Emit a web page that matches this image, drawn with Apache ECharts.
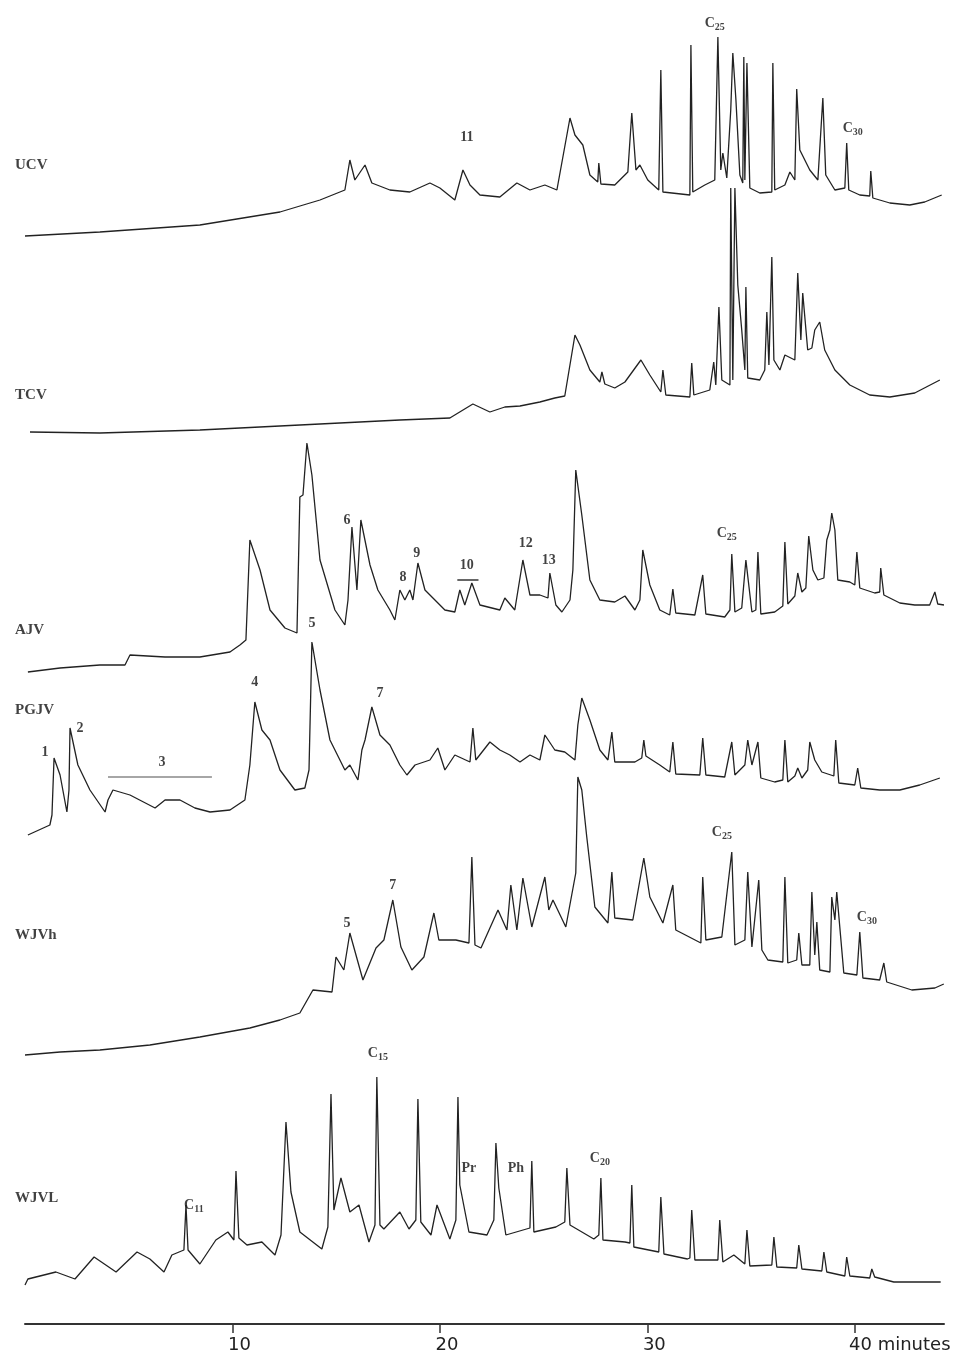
<!DOCTYPE html>
<html>
<head>
<meta charset="utf-8">
<script src="https://cdn.jsdelivr.net/npm/echarts@6/dist/echarts.min.js"></script>
<style>
  html, body { margin: 0; padding: 0; background: #fff; }
  #main { width: 978px; height: 1363px; }
</style>
</head>
<body>
<div id="main"></div>
<script>
// retention time (min), stacked signal (arbitrary units, traces offset)
const ucv = [[0,1088],[3.61,1092],[8.43,1099],[12.29,1112],[14.22,1124],[15.42,1134],[15.66,1164],[15.90,1144],[16.39,1159],[16.72,1141],[17.59,1134],[18.55,1132],[19.52,1141],[20.0,1136],[20.72,1124],[21.11,1154],[21.45,1139],[21.93,1129],[22.89,1127],[23.71,1141],[24.34,1134],[25.06,1139],[25.64,1134],[26.27,1206],[26.51,1189],[26.89,1179],[27.23,1149],[27.61,1142],[27.66,1161],[27.76,1140],[28.43,1139],[29.06,1152],[29.25,1211],[29.45,1154],[29.64,1159],[30.02,1144],[30.55,1134],[30.65,1254],[30.75,1132],[32.05,1129],[32.10,1279],[32.19,1132],[32.77,1139],[33.25,1144],[33.40,1287],[33.54,1154],[33.64,1171],[33.83,1146],[34.02,1214],[34.12,1271],[34.27,1224],[34.46,1149],[34.60,1141],[34.65,1267],[34.70,1144],[34.80,1261],[34.94,1136],[35.42,1131],[36.0,1132],[36.05,1261],[36.14,1134],[36.63,1139],[36.87,1152],[37.11,1144],[37.20,1235],[37.35,1174],[37.83,1154],[38.22,1144],[38.46,1226],[38.60,1149],[39.04,1134],[39.52,1136],[39.61,1181],[39.71,1134],[40.24,1129],[40.72,1128],[40.77,1153],[40.87,1126],[41.69,1121],[42.65,1119],[43.37,1122],[44.19,1129]];

const tcv = [[0.24,892],[3.61,891],[8.43,894],[13.25,899],[18.07,904],[20.48,906],[21.59,920],[22.41,912],[23.13,917],[23.86,918],[24.82,922],[25.54,926],[26.02,928],[26.51,989],[26.75,979],[27.23,954],[27.71,942],[27.81,952],[27.95,940],[28.43,936],[28.92,942],[29.69,964],[30.12,949],[30.65,932],[30.75,954],[30.89,929],[32.05,927],[32.14,961],[32.24,929],[33.01,934],[33.20,962],[33.30,939],[33.45,1017],[33.59,944],[33.98,939],[34.02,1136],[34.12,944],[34.22,1136],[34.36,1039],[34.55,994],[34.70,954],[34.75,1037],[34.84,946],[35.42,944],[35.66,954],[35.76,1012],[35.86,959],[36.0,1067],[36.10,964],[36.39,954],[36.63,969],[37.11,964],[37.25,1051],[37.40,984],[37.49,1031],[37.73,974],[37.93,976],[38.07,994],[38.31,1002],[38.55,974],[39.04,954],[39.76,939],[40.72,929],[41.69,927],[42.89,931],[44.10,944]];

const ajv = [[0.14,652],[1.69,656],[3.61,659],[4.82,659],[5.06,669],[6.75,667],[8.43,667],[9.88,672],[10.36,679],[10.65,684],[10.84,784],[11.33,754],[11.81,714],[12.53,696],[13.11,691],[13.25,827],[13.40,829],[13.59,881],[13.83,849],[14.22,764],[14.94,714],[15.42,699],[15.57,724],[15.76,797],[16.0,734],[16.19,804],[16.63,759],[17.01,734],[17.59,714],[17.83,704],[18.07,734],[18.31,724],[18.55,734],[18.70,724],[18.94,761],[19.28,734],[19.76,724],[20.24,714],[20.72,712],[20.96,734],[21.20,719],[21.54,741],[21.93,719],[22.89,714],[23.13,726],[23.61,714],[24.0,764],[24.34,729],[24.82,729],[25.21,726],[25.30,751],[25.59,719],[25.88,712],[26.27,724],[26.41,754],[26.55,854],[26.84,809],[27.23,744],[27.71,724],[28.43,722],[28.92,728],[29.40,714],[29.64,724],[29.78,774],[30.12,739],[30.60,714],[31.08,709],[31.23,735],[31.37,711],[32.29,709],[32.67,749],[32.82,710],[33.73,707],[33.98,714],[34.07,770],[34.22,712],[34.55,716],[34.75,764],[35.04,712],[35.23,714],[35.33,772],[35.47,710],[36.14,712],[36.53,718],[36.63,782],[36.77,720],[37.11,728],[37.25,751],[37.45,732],[37.64,736],[37.78,788],[37.98,754],[38.22,744],[38.51,746],[38.65,784],[38.80,794],[38.89,811],[39.04,794],[39.18,744],[39.76,742],[40.0,739],[40.10,772],[40.24,736],[40.96,731],[41.20,732],[41.25,756],[41.40,729],[42.17,721],[42.89,719],[43.61,719],[43.86,732],[44.0,720],[44.3,719]];

const pgjv = [[0.14,489],[1.20,499],[1.30,509],[1.40,566],[1.69,549],[2.02,512],[2.12,534],[2.17,596],[2.55,559],[3.13,534],[3.86,512],[4.0,524],[4.24,534],[5.06,529],[6.27,516],[6.75,524],[7.47,524],[8.19,516],[8.92,512],[9.88,514],[10.60,524],[10.84,559],[11.08,622],[11.42,594],[11.81,584],[12.29,554],[13.01,534],[13.49,536],[13.69,554],[13.83,682],[14.22,634],[14.70,584],[15.42,554],[15.66,559],[16.05,544],[16.24,574],[16.39,584],[16.72,617],[17.11,589],[17.59,579],[18.07,559],[18.41,549],[18.80,559],[19.52,564],[19.90,576],[20.24,554],[20.72,569],[21.45,562],[21.59,596],[21.73,564],[22.41,582],[22.89,574],[23.37,569],[23.86,562],[24.34,569],[24.82,564],[25.06,589],[25.54,574],[26.02,572],[26.51,564],[26.65,599],[26.84,626],[27.23,604],[27.71,574],[28.10,564],[28.29,592],[28.43,562],[29.40,562],[29.73,566],[29.83,584],[29.93,568],[30.60,559],[31.08,552],[31.23,582],[31.37,550],[32.53,549],[32.67,586],[32.82,549],[33.73,547],[34.07,582],[34.22,549],[34.70,559],[34.84,584],[35.04,559],[35.33,582],[35.47,546],[36.14,542],[36.53,544],[36.63,584],[36.77,542],[37.11,548],[37.25,556],[37.45,546],[37.73,554],[37.83,582],[38.07,564],[38.41,552],[38.99,548],[39.08,584],[39.23,541],[40.0,539],[40.14,556],[40.29,536],[41.20,534],[42.17,534],[43.13,539],[44.10,546]];

const wjvh = [[0,269],[1.69,272],[3.61,274],[6.02,279],[8.43,287],[10.84,296],[12.29,304],[13.25,311],[13.88,334],[14.80,332],[14.99,367],[15.37,354],[15.66,391],[16.29,344],[16.92,376],[17.30,384],[17.73,424],[18.12,377],[18.65,354],[19.23,367],[19.71,411],[19.95,384],[20.77,384],[21.40,381],[21.54,467],[21.69,379],[21.98,376],[22.80,414],[23.23,394],[23.42,439],[23.71,394],[24.0,446],[24.43,397],[25.06,447],[25.25,414],[25.45,424],[26.07,397],[26.55,451],[26.65,547],[26.84,534],[27.08,487],[27.47,417],[28.10,401],[28.29,452],[28.43,406],[29.30,404],[29.83,466],[30.12,427],[30.75,401],[31.23,439],[31.37,394],[32.58,381],[32.67,447],[32.82,384],[33.59,387],[34.07,472],[34.22,379],[34.70,384],[34.84,452],[35.04,377],[35.37,444],[35.52,374],[35.81,364],[36.53,362],[36.63,447],[36.77,361],[37.20,364],[37.30,391],[37.45,359],[37.83,359],[37.93,432],[38.07,369],[38.17,402],[38.31,354],[38.80,352],[38.89,427],[39.04,404],[39.13,432],[39.47,351],[40.10,349],[40.24,392],[40.39,346],[41.20,344],[41.40,361],[41.54,342],[42.75,334],[43.86,336],[44.29,340]];

const wjvl = [[0,39],[0.14,45],[1.49,52],[2.41,45],[3.33,67],[4.39,52],[5.40,72],[6.02,65],[6.70,52],[7.08,69],[7.66,74],[7.76,119],[7.86,74],[8.43,60],[9.20,84],[9.78,92],[10.07,84],[10.17,153],[10.31,86],[10.70,79],[11.42,82],[12.05,69],[12.34,89],[12.58,202],[12.82,132],[13.25,92],[14.31,75],[14.60,97],[14.75,230],[14.89,114],[15.23,146],[15.66,112],[16.10,119],[16.58,82],[16.87,99],[16.96,247],[17.11,99],[17.30,95],[18.07,112],[18.51,95],[18.84,104],[18.94,225],[19.08,102],[19.57,89],[19.86,119],[20.48,85],[20.77,104],[20.87,227],[20.96,139],[21.40,92],[22.27,89],[22.60,104],[22.70,181],[22.84,136],[23.18,89],[24.34,96],[24.43,163],[24.53,92],[25.59,97],[26.02,102],[26.12,156],[26.27,99],[27.42,85],[27.66,89],[27.76,146],[27.86,84],[28.92,82],[29.16,81],[29.25,139],[29.35,77],[30.55,72],[30.65,127],[30.80,70],[31.93,65],[32.05,66],[32.14,114],[32.29,64],[33.40,64],[33.49,104],[33.64,62],[34.17,69],[34.70,60],[34.80,94],[34.94,58],[36.0,59],[36.10,87],[36.24,57],[37.20,56],[37.30,79],[37.45,55],[38.41,53],[38.51,72],[38.65,52],[39.52,48],[39.61,67],[39.76,48],[40.72,46],[40.82,55],[40.96,47],[41.88,42],[44.14,42]];

const traceNames = [["UCV",-0.48,1159],["TCV",-0.48,929],["AJV",-0.48,694],["PGJV",-0.48,614],["WJVh",-0.48,389],["WJVL",-0.48,126]];

// peak labels: [text, time, level]
const peakLabels = [
  ["11",21.30,1187],["C{s|25}",33.25,1301],["C{s|30}",39.90,1196],
  ["6",15.52,804],["8",18.22,747],["9",18.89,771],["10",21.30,759],["12",24.14,781],["13",25.25,764],["C{s|25}",33.83,791],
  ["5",13.83,701],["4",11.08,642],["7",17.11,631],["1",0.96,572],["2",2.65,596],["3",6.60,562],
  ["5",15.52,401],["7",17.73,439],["C{s|25}",33.59,492],["C{s|30}",40.58,407],
  ["C{s|11}",8.14,119],["C{s|15}",17.01,271],["Pr",21.40,156],["Ph",23.66,156],["C{s|20}",27.71,166]
];
const bar10 = [[20.84,744],[21.86,744]];
const bar3 = [[4.0,547],[9.01,547]];

const xTicks = [10, 20, 30, 40];

let chart = echarts.init(document.getElementById("main"));

function trace(data) {
  return {
    type: 'line', data: data, showSymbol: false, symbol: 'none',
    lineStyle: {color: '#222', width: 1.3}, z: 2
  };
}

const labelFont = {fontFamily: 'Liberation Serif', fontWeight: 'bold', fontSize: 14, color: '#111'};

let option = {
  animation: false,
  grid: {left: 25, right: 34, top: 0, bottom: 39},
  xAxis: {
    type: 'value', min: 0, max: 44.3, interval: 10,
    axisLine: {lineStyle: {color: '#333', width: 2}},
    axisTick: {length: 9, lineStyle: {color: '#333', width: 1.5}},
    splitLine: {show: false},
    axisLabel: {
      fontFamily: 'DejaVu Sans', fontSize: 18, color: '#222', margin: 12,
      showMinLabel: false, showMaxLabel: false,
      formatter: function (v) {
        if (xTicks.indexOf(v) < 0) return '';
        return v === 40 ? '{m|40 minutes}' : '{n|' + v + '}';
      },
      rich: {
        m: {fontFamily: 'DejaVu Sans', fontSize: 18, color: '#222', padding: [0, 0, 0, 90]},
        n: {fontFamily: 'DejaVu Sans', fontSize: 18, color: '#222', padding: [0, 0, 0, 14]}
      }
    }
  },
  yAxis: {type: 'value', min: 0, max: 1324, show: false},
  series: [
    trace(ucv), trace(tcv), trace(ajv), trace(pgjv), trace(wjvh), trace(wjvl),
    {type: 'line', data: bar10, symbol: 'none', lineStyle: {color: '#333', width: 1.5}},
    {type: 'line', data: bar3, symbol: 'none', lineStyle: {color: '#888', width: 1.5}},
    {
      type: 'scatter', symbolSize: 0, clip: false,
      data: traceNames.map(d => ({value: [d[1], d[2]], name: d[0]})),
      label: Object.assign({show: true, position: 'right', distance: 0, formatter: '{b}'}, labelFont, {fontSize: 15})
    },
    {
      type: 'scatter', symbolSize: 0, clip: false,
      data: peakLabels.map(d => ({value: [d[1], d[2]], name: d[0]})),
      label: Object.assign({
        show: true, position: 'inside', formatter: '{b}',
        rich: {s: {fontFamily: 'Liberation Serif', fontWeight: 'bold', fontSize: 10, padding: [8, 0, 0, 0], color: '#111'}}
      }, labelFont)
    }
  ]
};

chart.setOption(option);
window.onresize = chart.resize;
</script>
</body>
</html>
